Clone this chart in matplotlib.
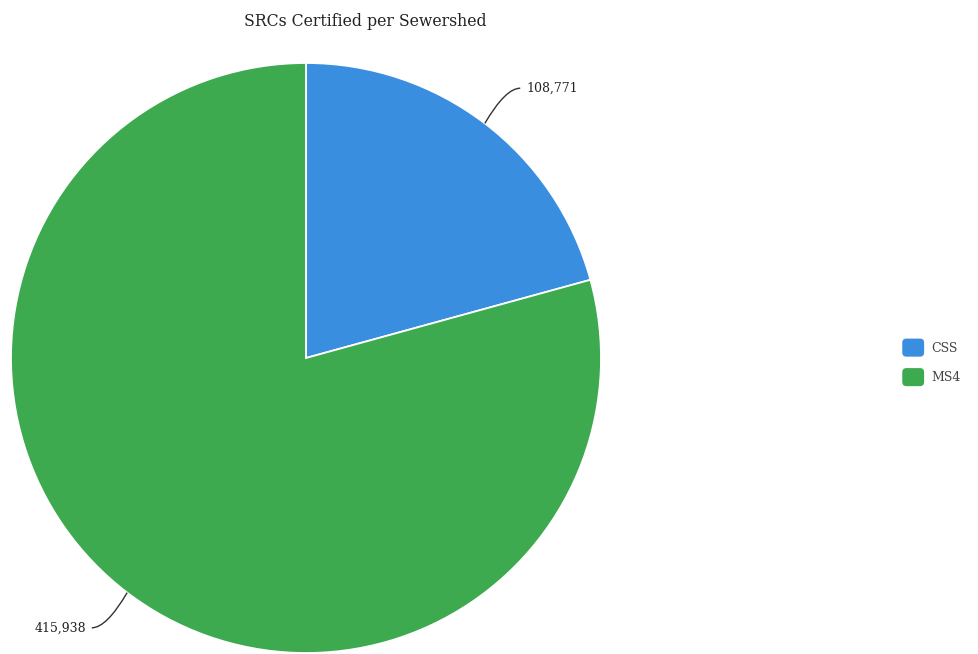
import matplotlib

matplotlib.use("Agg")
import matplotlib.pyplot as plt
import numpy as np
from matplotlib.legend_handler import HandlerPatch
from matplotlib.patches import FancyBboxPatch, PathPatch
from matplotlib.path import Path

# data
categories = ["CSS", "MS4"]
values = [108771, 415938]
value_labels = ["108,771", "415,938"]
colors = ["#3a8ee0", "#3daa50"]
title = "SRCs Certified per Sewershed"

W, H = 979, 654
fig = plt.figure(figsize=(W / 100, H / 100), dpi=100)

# pie centre ~ (306, 358) px, radius ~ 295 px
cx, cy, r = 306, 358, 295
ax = fig.add_axes([(cx - r) / W, (H - cy - r) / H, 2 * r / W, 2 * r / H])
wedges, _ = ax.pie(values, colors=colors, startangle=90, counterclock=False,
                   radius=1.0, wedgeprops=dict(edgecolor="white", linewidth=1.3))
ax.set_xlim(-1, 1)
ax.set_ylim(-1, 1)
ax.set_aspect("equal")
ax.axis("off")

# curved leader lines + value labels
for w, lab in zip(wedges, value_labels):
    mid = np.deg2rad((w.theta1 + w.theta2) / 2.0)
    x0, y0 = np.cos(mid), np.sin(mid)
    side = 1 if x0 >= 0 else -1
    y1 = y0 * 1.15
    x1 = x0 + side * 0.12
    ctrl = (x0 + side * 0.07, y1)
    path = Path([(x0, y0), ctrl, (x1, y1)], [Path.MOVETO, Path.CURVE3, Path.CURVE3])
    ax.add_patch(PathPatch(path, fill=False, lw=1.0, color="#333333", clip_on=False))
    ax.text(x1 + side * 0.02, y1, lab, ha="left" if side > 0 else "right",
            va="center", fontsize=9, family="DejaVu Serif", color="#222222")

fig.text(365 / W, 1 - 22 / H, title, ha="center", va="center",
         fontsize=11.3, family="DejaVu Serif", color="#222222")


class RoundHandler(HandlerPatch):
    def create_artists(self, legend, orig_handle, xdescent, ydescent, width,
                       height, fontsize, trans):
        h = 13
        p = FancyBboxPatch((-xdescent, -ydescent + (height - h) / 2), width, h,
                           boxstyle="round,pad=0,rounding_size=3",
                           facecolor=orig_handle.get_facecolor(), edgecolor="none",
                           transform=trans)
        return [p]


leg = fig.legend(wedges, categories, loc="center left",
                 bbox_to_anchor=(891 / W, 1 - 363 / H), frameon=False,
                 handlelength=1.75, handleheight=1.1, labelspacing=1.3,
                 handletextpad=0.55, prop=dict(family="DejaVu Serif", size=9),
                 handler_map={w: RoundHandler() for w in wedges})
for t in leg.get_texts():
    t.set_color("#444444")

fig.savefig("out.png", dpi=100)
